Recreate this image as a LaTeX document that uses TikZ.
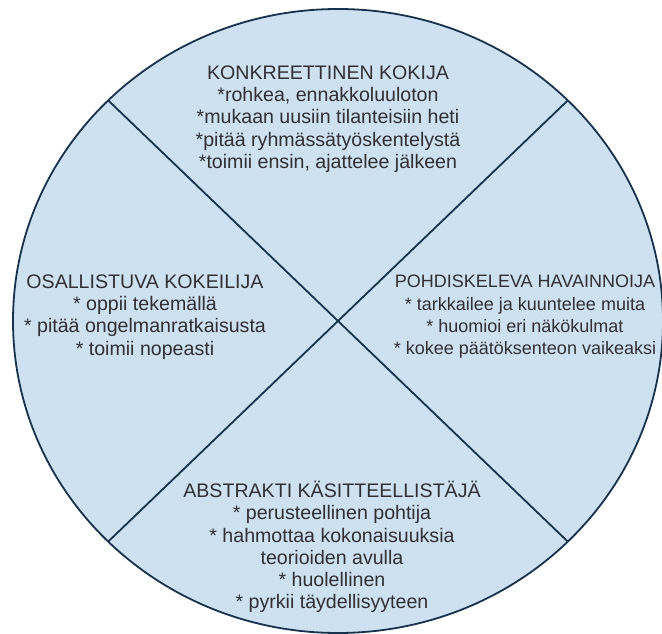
\documentclass[tikz,border=0pt]{standalone}
\usepackage{fontspec}
\setmainfont{Liberation Sans}
\usepackage{xcolor}
\usepackage{tikz}
\usetikzlibrary{positioning}
\definecolor{ringFill}{RGB}{206,225,241}
\definecolor{ringLine}{RGB}{22,50,76}
\definecolor{textGray}{RGB}{48,48,52}

\begin{document}
\begin{tikzpicture}[x=1pt, y=-1pt,
		every node/.style={align=center, text=textGray, inner sep=0pt, font=\fontsize{19.6}{22.3}\selectfont},
		ring/.style={draw=ringLine, fill=ringFill, line width=1.8pt},
		rimLine/.style={draw=ringLine, line width=1.8pt}]
			\useasboundingbox (0,0) rectangle (662,634);
			\coordinate (centre) at (338,321);
			\filldraw[ring] (centre) ellipse [x radius=325, y radius=312];
			\foreach \a in {45,135,225,315}
			{
				\path (centre) ++(\a:325 and 312) coordinate (rim\a);
			}
			\draw[rimLine] (rim135) -- (rim315);
			\draw[rimLine] (rim45) -- (rim225);
			\node(kokija) at (328,119){KONKREETTINEN KOKIJA\\{}*rohkea, ennakkoluuloton\\{}*mukaan uusiin tilanteisiin heti\\{}*pitää ryhmässätyöskentelystä\\{}*toimii ensin, ajattelee jälkeen};
			\node(kokeilija) at (145,317){OSALLISTUVA KOKEILIJA\\{}* oppii tekemällä\\{}* pitää ongelmanratkaisusta\\{}* toimii nopeasti};
			\node[font=\fontsize{18}{22.3}\selectfont](havainnoija) at (525,317){POHDISKELEVA HAVAINNOIJA\\{}* tarkkailee ja kuuntelee muita\\{}* huomioi eri näkökulmat\\{}* kokee päätöksenteon vaikeaksi};
			\node(kasitteellistaja) at (332,547){ABSTRAKTI KÄSITTEELLISTÄJÄ\\{}* perusteellinen pohtija\\{}* hahmottaa kokonaisuuksia\\teorioiden avulla\\{}* huolellinen\\{}* pyrkii täydellisyyteen};
		\end{tikzpicture}
\end{document}
